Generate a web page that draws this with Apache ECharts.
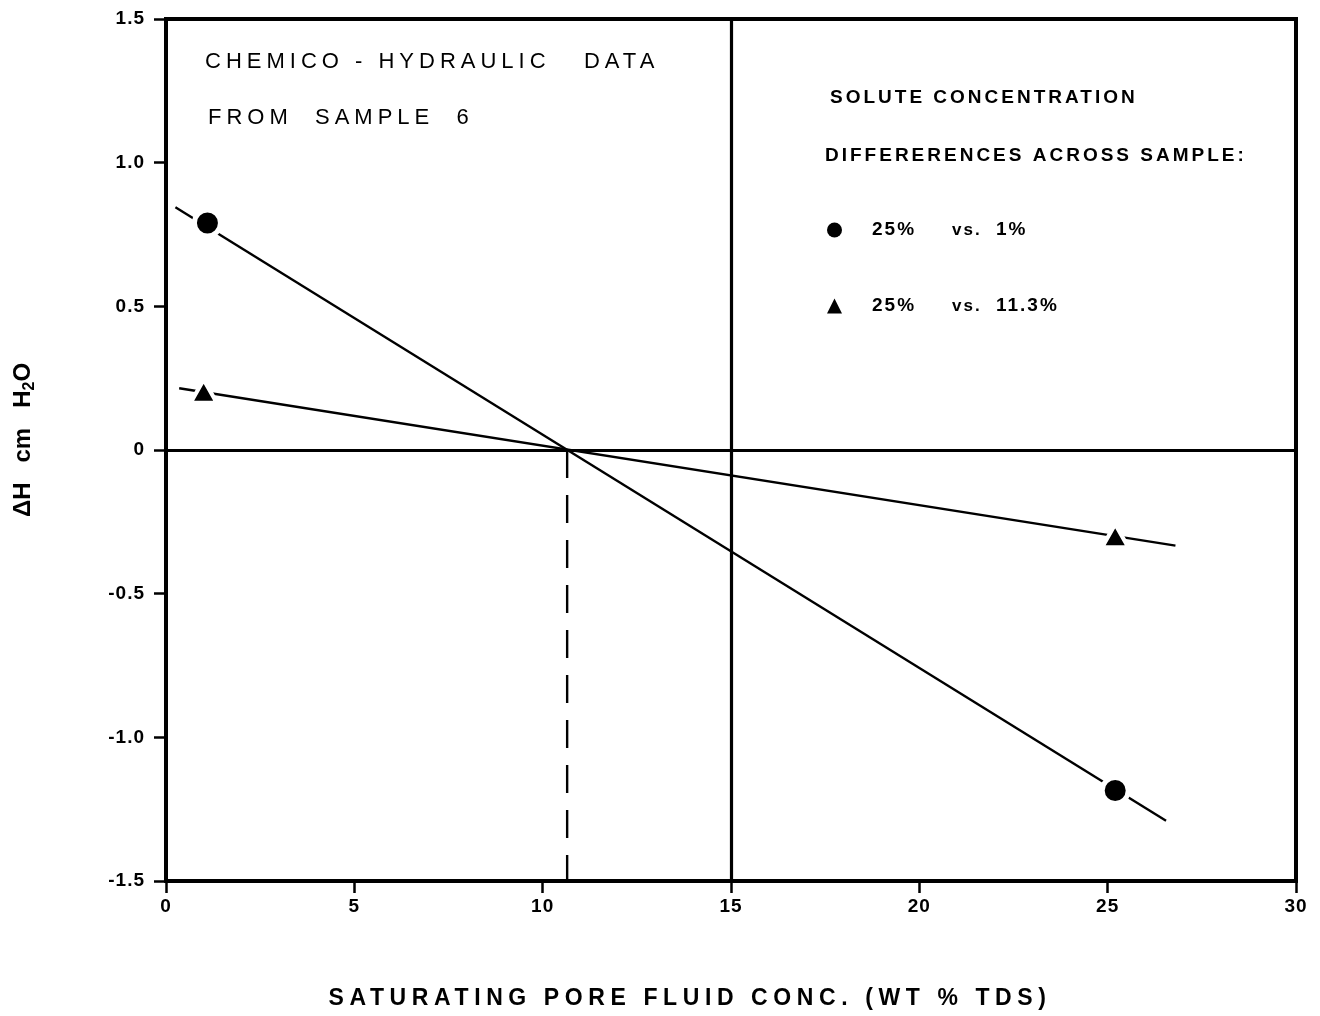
<!DOCTYPE html>
<html>
<head>
<meta charset="utf-8">
<script src="https://cdn.jsdelivr.net/npm/echarts@6/dist/echarts.min.js"></script>
<style>html,body{margin:0;padding:0;background:#fff}#c{width:1320px;height:1016px}</style>
</head>
<body>
<div id="c"></div>
<script>
// ---- data ----
const circlePts   = [[1.1, 0.79], [25.2, -1.185]];   // 25% vs. 1%
const trianglePts = [[1.0, 0.205], [25.2, -0.298]];  // 25% vs. 11.3%
const circleFit   = [[0.25, 0.845], [26.55, -1.29]];
const triangleFit = [[0.35, 0.215], [26.8, -0.333]];
const dashedDrop  = [[10.65, 0], [10.65, -1.5]];
const refLineX = 15;
const refLineY = 0;
const xTickStep = 5;
const yTickStep = 0.5;
const seriesNames = ['25% vs. 1%', '25% vs. 11.3%'];
const legendParts = [['25%', 'vs.', '1%'], ['25%', 'vs.', '11.3%']];

// letter spacing for canvas text, keyed by a font-family tag (e.g. "ls3" = 3px, "ls5p5" = 5.5px)
(function () {
  const P = CanvasRenderingContext2D.prototype;
  if (!('letterSpacing' in P)) return;
  const of = P.fillText;
  P.fillText = function (t, x, y, w) {
    const m = /ls(\d+)(?:p(\d+))?/.exec(this.font);
    const prev = this.letterSpacing;
    this.letterSpacing = m ? (m[1] + (m[2] ? '.' + m[2] : '')) + 'px' : '0px';
    const r = (w === undefined) ? of.call(this, t, x, y) : of.call(this, t, x, y, w);
    this.letterSpacing = prev;
    return r;
  };
})();

const F = (ls) => "'Liberation Sans', Arial, ls" + ls;
const PLAIN = "'Liberation Sans', Arial";

const chart = echarts.init(document.getElementById('c'), null, {renderer: 'canvas'});
const black = '#000';

const legendFmt = (name) => {
  const i = seriesNames.indexOf(name);
  const p = legendParts[i];
  return '{a|' + p[0] + '}{b|' + p[1] + '}{c|' + p[2] + '}';
};
const legRich = {
  a: {width: 80, fontSize: 19, fontWeight: 'bold', fontFamily: F(2), color: black},
  b: {width: 44, fontSize: 17, fontWeight: 'bold', fontFamily: F(2), color: black},
  c: {fontSize: 19, fontWeight: 'bold', fontFamily: F(2), color: black}
};

chart.setOption({
  backgroundColor: '#fff',
  animation: false,
  grid: {left: 166, right: 24, top: 19, bottom: 131, show: true, borderColor: black, borderWidth: 4, containLabel: false},
  xAxis: {
    type: 'value', min: 0, max: 30, interval: xTickStep,
    name: 'SATURATING PORE FLUID CONC. (WT % TDS)',
    nameLocation: 'middle', nameGap: 106,
    nameTextStyle: {fontSize: 23, fontWeight: 'bold', fontFamily: F('5p6'), color: black, lineHeight: 24, padding: [0, 82, 0, 0]},
    axisLine: {show: true, onZero: false, lineStyle: {color: black, width: 4}},
    axisTick: {show: true, length: 12, lineStyle: {color: black, width: 2.5}},
    axisLabel: {fontSize: 19, fontWeight: 'bold', fontFamily: F(1), color: black, margin: 16, showMinLabel: true, showMaxLabel: true},
    splitLine: {show: false}
  },
  yAxis: {
    type: 'value', min: -1.5, max: 1.5, interval: yTickStep,
    name: '{m|ΔH   cm   H}{s|2}{m|O}',
    nameLocation: 'middle', nameRotate: 90, nameGap: 128,
    nameTextStyle: {
      padding: [0, 0, 0, 20],
      rich: {
        m: {fontSize: 24, fontWeight: 'bold', fontFamily: PLAIN, color: black, lineHeight: 29},
        s: {fontSize: 16, fontWeight: 'bold', fontFamily: PLAIN, color: black, lineHeight: 16, verticalAlign: 'bottom'}
      }
    },
    axisLine: {show: true, onZero: false, lineStyle: {color: black, width: 4}},
    axisTick: {show: true, length: 12, lineStyle: {color: black, width: 2.5}},
    axisLabel: {
      fontSize: 19, fontWeight: 'bold', fontFamily: F(1), color: black, margin: 21,
      formatter: (v) => (Math.abs(v) < 1e-9 ? '0' : v.toFixed(1))
    },
    splitLine: {show: false}
  },
  legend: {
    data: seriesNames, orient: 'vertical', left: 822, top: 215,
    itemWidth: 15, itemHeight: 15, itemGap: 56,
    itemStyle: {borderWidth: 0, opacity: 1},
    formatter: legendFmt,
    textStyle: {lineHeight: 20, padding: [0, 0, 0, 25], rich: legRich}
  },
  graphic: [
    {type: 'text', x: 205, y: 62, style: {text: 'CHEMICO - HYDRAULIC   DATA', fontSize: 22, fontFamily: F(5), fill: black, verticalAlign: 'middle', textVerticalAlign: 'middle'}},
    {type: 'text', x: 208, y: 118, style: {text: 'FROM  SAMPLE  6', fontSize: 22, fontFamily: F(5), fill: black, verticalAlign: 'middle', textVerticalAlign: 'middle'}},
    {type: 'text', x: 830, y: 98, style: {text: 'SOLUTE CONCENTRATION', fontSize: 19, fontWeight: 'bold', fontFamily: F(3), fill: black, verticalAlign: 'middle', textVerticalAlign: 'middle'}},
    {type: 'text', x: 825, y: 156, style: {text: 'DIFFERERENCES ACROSS SAMPLE:', fontSize: 19, fontWeight: 'bold', fontFamily: F(3), fill: black, verticalAlign: 'middle', textVerticalAlign: 'middle'}}
  ],
  series: [
    {
      name: 'fit1', type: 'line', data: circleFit, symbol: 'none', silent: true,
      lineStyle: {color: black, width: 2.4}, z: 3,
      markLine: {
        silent: true, symbol: ['none', 'none'], label: {show: false},
        lineStyle: {color: black, type: 'solid', width: 3.2},
        data: [{xAxis: refLineX}, {yAxis: refLineY}]
      }
    },
    {name: 'fit2', type: 'line', data: triangleFit, symbol: 'none', silent: true, lineStyle: {color: black, width: 2.4}, z: 3},
    {name: 'drop', type: 'line', data: dashedDrop, symbol: 'none', silent: true, lineStyle: {color: black, width: 2.4, type: [28, 17]}, z: 3},
    {
      name: seriesNames[0], type: 'scatter', data: circlePts, symbol: 'circle', symbolSize: 26,
      itemStyle: {color: black, borderColor: '#fff', borderWidth: 5, opacity: 1}, z: 5
    },
    {
      name: seriesNames[1], type: 'scatter', data: trianglePts, symbol: 'triangle', symbolSize: [26, 23],
      itemStyle: {color: black, borderColor: '#fff', borderWidth: 4, opacity: 1}, z: 5
    }
  ]
});
</script>
</body>
</html>
